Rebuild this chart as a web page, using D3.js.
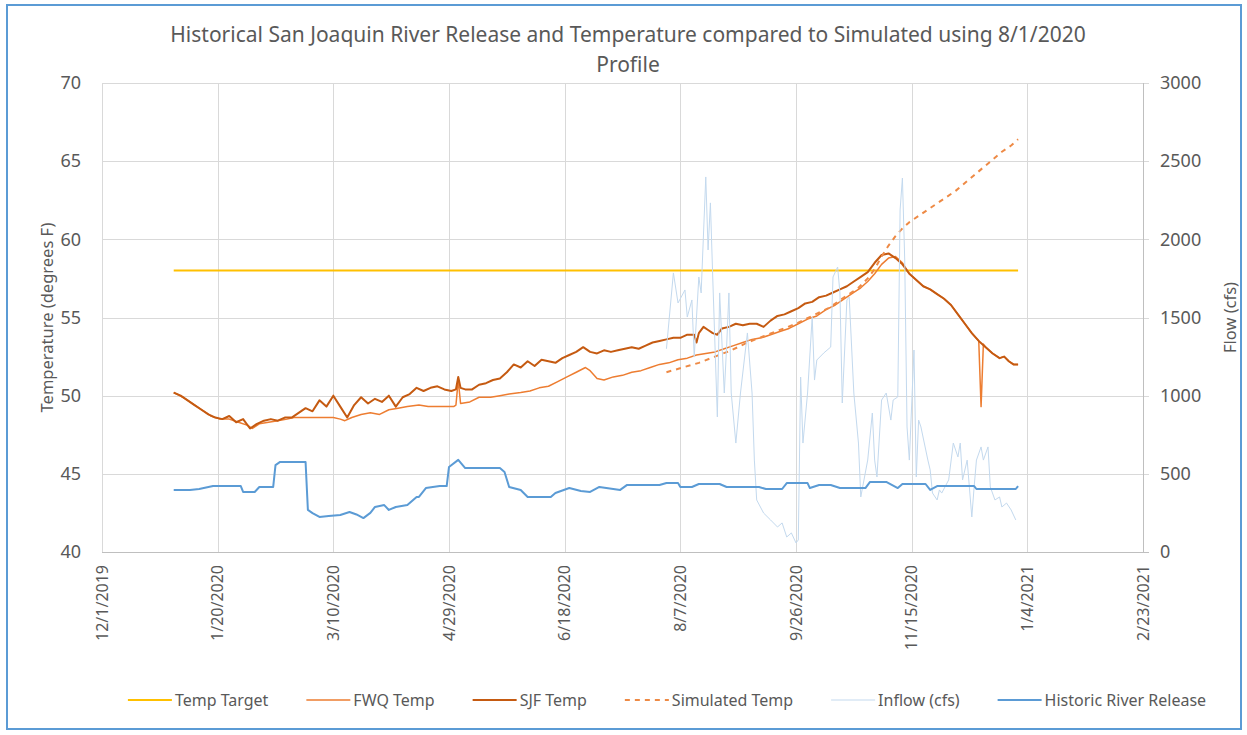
<!DOCTYPE html>
<html lang="en">
<head>
<meta charset="utf-8">
<style>
  body { margin: 0; background: #fff; }
  svg { display: block; font-family: "Noto Sans", "Open Sans", sans-serif; }
  .grid line { stroke: #d9d9d9; stroke-width: 1px; }
  .lbl { fill: #595959; }
</style>
</head>
<body>
<svg width="1247" height="735"></svg>

<script src="https://d3js.org/d3.v7.min.js"></script>
<script>
// x values are days after 1/1/2020, temps in degrees F, flows in cfs
var dateTicks = ["12/1/2019", "1/20/2020", "3/10/2020", "4/29/2020", "6/18/2020",
                 "8/7/2020", "9/26/2020", "11/15/2020", "1/4/2021", "2/23/2021"];
var tempTicks = [40, 45, 50, 55, 60, 65, 70];
var flowTicks = [0, 500, 1000, 1500, 2000, 2500, 3000];

var tempTarget = [[0, 58], [365, 58]];

var fwqTemp = [[0,50.2],[4,49.9],[8,49.5],[12,49.1],[16,48.7],[20,48.5],[24,48.5],[28,48.3],
  [32,48.1],[34,47.9],[37,48.2],[41,48.3],[45,48.4],[49,48.5],[52,48.6],[69,48.6],[72,48.5],
  [74,48.4],[77,48.6],[81,48.8],[85,48.9],[89,48.8],[93,49.1],[97,49.2],[101,49.3],[106,49.4],
  [110,49.3],[121,49.3],[122,49.4],[123,51.0],[124,49.5],[128,49.6],[132,49.9],[137,49.9],
  [141,50.0],[145,50.1],[150,50.2],[154,50.3],[158,50.5],[162,50.6],[166,50.9],[170,51.2],
  [174,51.5],[178,51.8],[180,51.6],[183,51.1],[186,51.0],[190,51.2],[194,51.3],[198,51.5],
  [202,51.6],[206,51.8],[210,52.0],[214,52.1],[218,52.3],[222,52.4],[226,52.6],[230,52.7],
  [234,52.8],[238,53.0],[242,53.2],[246,53.4],[250,53.6],[254,53.7],[258,53.9],[262,54.1],
  [266,54.3],[270,54.6],[274,54.9],[278,55.1],[282,55.5],[286,55.8],[290,56.2],[294,56.6],
  [297,56.9],[300,57.3],[303,57.8],[306,58.4],[309,58.8],[312,58.9],[315,58.5],[318,57.8],
  [321,57.4],[324,57.0],[327,56.8],[330,56.5],[333,56.2],[336,55.8],[339,55.2],[342,54.6],
  [345,54.0],[348,53.5],[349,49.3],[350,53.3],[351,53.1],[354,52.7],[357,52.4],[359,52.5],
  [361,52.2],[363,52.0],[365,52.0]];

var sjfTemp = [[0,50.2],[3,50.0],[6,49.7],[9,49.4],[12,49.1],[15,48.8],[18,48.6],[21,48.5],
  [24,48.7],[27,48.3],[30,48.5],[33,47.9],[36,48.2],[39,48.4],[42,48.5],[45,48.4],[48,48.6],
  [51,48.6],[54,48.9],[57,49.2],[60,49.0],[63,49.7],[66,49.3],[69,50.0],[72,49.3],[75,48.6],
  [78,49.4],[81,49.9],[84,49.5],[87,49.8],[90,49.6],[93,50.0],[96,49.3],[99,49.9],[102,50.1],
  [105,50.5],[108,50.3],[111,50.5],[114,50.6],[117,50.4],[120,50.3],[122,50.4],[123,51.2],
  [124,50.5],[126,50.4],[129,50.4],[132,50.7],[135,50.8],[138,51.0],[141,51.1],[144,51.5],
  [147,52.0],[150,51.8],[153,52.2],[156,51.9],[159,52.3],[162,52.2],[165,52.1],[168,52.4],
  [171,52.6],[174,52.8],[177,53.1],[180,52.8],[183,52.7],[186,52.9],[189,52.8],[192,52.9],
  [195,53.0],[198,53.1],[201,53.0],[204,53.2],[207,53.4],[210,53.5],[213,53.6],[216,53.7],
  [219,53.7],[222,53.9],[225,53.9],[226,53.4],[227,54.0],[229,54.4],[231,54.2],[233,54.0],
  [235,53.9],[237,54.3],[240,54.4],[243,54.6],[246,54.5],[249,54.6],[252,54.6],[255,54.4],
  [258,54.8],[261,55.1],[264,55.2],[267,55.4],[270,55.6],[273,55.9],[276,56.0],[279,56.3],
  [282,56.4],[285,56.6],[288,56.8],[291,57.0],[294,57.3],[297,57.6],[300,57.9],[303,58.5],
  [306,59.0],[309,59.1],[312,58.8],[315,58.4],[318,57.8],[321,57.4],[324,57.0],[327,56.8],
  [330,56.5],[333,56.2],[336,55.8],[339,55.2],[342,54.6],[345,54.0],[348,53.5],[351,53.1],
  [354,52.7],[357,52.4],[359,52.5],[361,52.2],[363,52.0],[365,52.0]];

var simulatedTemp = [[213,51.5],[220,51.8],[227,52.1],[234,52.5],[241,52.9],[248,53.4],
  [255,53.8],[262,54.2],[269,54.6],[276,55.1],[283,55.6],[290,56.3],[296,56.9],[300,57.5],
  [303,58.1],[306,58.9],[309,59.6],[312,60.2],[315,60.7],[318,61.1],[322,61.5],[326,61.9],
  [330,62.3],[334,62.7],[338,63.1],[342,63.6],[346,64.1],[350,64.6],[354,65.1],[358,65.6],
  [362,66.0],[365,66.4]];

var inflowCfs = [[213,1300],[216,1785],[218,1593],[221,1676],[222,1503],[224,1612],[225,1247],
  [227,1759],[228,1657],[230,2399],[231,1932],[232,2233],[233,1759],[234,1311],[235,864],
  [236,1657],[238,1017],[239,1311],[240,1657],[241,1017],[243,697],[245,1017],[248,1401],
  [250,1017],[251,588],[252,333],[255,249],[258,205],[261,160],[263,186],[265,96],[267,122],
  [269,58],[270,77],[271,1119],[272,697],[274,1017],[276,1503],[277,1100],[278,1228],
  [281,1273],[284,1311],[285,1759],[287,1823],[288,1657],[289,953],[291,1612],[292,1631],
  [294,1017],[296,697],[297,352],[300,588],[302,889],[303,588],[304,480],[306,972],[308,1017],
  [310,844],[311,972],[313,992],[314,2188],[315,2392],[316,1868],[317,800],[318,588],
  [320,1292],[321,480],[322,844],[323,800],[326,588],[327,525],[328,377],[330,333],[331,397],
  [332,377],[335,461],[337,697],[339,608],[340,697],[341,461],[343,588],[345,224],[346,416],
  [347,588],[349,672],[350,588],[352,672],[353,416],[355,333],[357,352],[358,288],[360,313],
  [362,269],[364,205]];

var releaseCfs = [[0,397],[7,397],[11,403],[13,409],[17,422],[29,422],[30,384],[35,384],
  [37,416],[43,416],[44,556],[46,576],[57,576],[58,269],[60,249],[63,224],[67,230],[72,237],
  [76,256],[79,240],[82,217],[85,250],[87,288],[91,300],[93,269],[96,288],[101,300],[105,352],
  [106,352],[109,409],[115,422],[118,422],[119,544],[123,589],[126,537],[141,537],[143,512],
  [145,416],[150,397],[153,352],[163,352],[165,377],[171,409],[176,390],[180,384],[184,416],
  [193,397],[196,429],[210,429],[213,441],[218,441],[219,416],[224,416],[227,435],[236,435],
  [239,416],[253,416],[256,403],[263,403],[265,441],[274,441],[275,409],[279,429],[284,429],
  [288,409],[299,409],[301,448],[308,448],[313,409],[315,435],[325,435],[327,397],[330,422],
  [346,422],[347,403],[364,403],[365,422]];

var legendNames = ["Temp Target", "FWQ Temp", "SJF Temp", "Simulated Temp", "Inflow (cfs)", "Historic River Release"];

var svg = d3.select("svg"),
    width = +svg.attr("width"),
    height = +svg.attr("height");

var plotL = 102, plotR = 1143, plotT = 83, plotB = 552;
var parseDate = d3.utcParse("%m/%d/%Y");
var day0 = new Date(Date.UTC(2020, 0, 1));
function toDate(d) { return d3.utcDay.offset(day0, d); }

var x = d3.scaleUtc()
    .domain([parseDate(dateTicks[0]), parseDate(dateTicks[dateTicks.length - 1])])
    .range([plotL, plotR]);
var yT = d3.scaleLinear().domain([40, 70]).range([plotB, plotT]);
var yF = d3.scaleLinear().domain([0, 3000]).range([plotB, plotT]);

svg.append("rect").attr("width", width).attr("height", height).attr("fill", "#fff");
svg.append("rect")
    .attr("x", 7).attr("y", 5).attr("width", 1234).attr("height", 724)
    .attr("fill", "none").attr("stroke", "#5b9bd5").attr("stroke-width", 2);

// gridlines
var grid = svg.append("g").attr("class", "grid");
grid.selectAll(".h").data(tempTicks.slice(1)).enter().append("line")
    .attr("x1", plotL).attr("x2", plotR + 6)
    .attr("y1", function (d) { return Math.round(yT(d)) + 0.5; })
    .attr("y2", function (d) { return Math.round(yT(d)) + 0.5; });
grid.selectAll(".v").data(dateTicks).enter().append("line")
    .attr("x1", function (d) { return Math.round(x(parseDate(d))) + 0.5; })
    .attr("x2", function (d) { return Math.round(x(parseDate(d))) + 0.5; })
    .attr("y1", plotT).attr("y2", plotB);

// axis lines
svg.append("line").attr("x1", plotL).attr("x2", plotR + 6)
    .attr("y1", plotB + 0.5).attr("y2", plotB + 0.5)
    .attr("stroke", "#bfbfbf");
svg.append("line").attr("x1", plotR + 0.5).attr("x2", plotR + 0.5)
    .attr("y1", plotT).attr("y2", plotB)
    .attr("stroke", "#bfbfbf");

// tick labels
svg.selectAll(".tl").data(tempTicks).enter().append("text")
    .attr("class", "lbl")
    .attr("x", 81).attr("y", function (d) { return yT(d); })
    .attr("dy", "0.35em").attr("text-anchor", "end")
    .style("font-size", "18px")
    .text(function (d) { return d; });
svg.selectAll(".tr").data(flowTicks).enter().append("text")
    .attr("class", "lbl")
    .attr("x", 1160).attr("y", function (d) { return yF(d); })
    .attr("dy", "0.35em").attr("text-anchor", "start")
    .style("font-size", "18px")
    .text(function (d) { return d; });
svg.selectAll(".tx").data(dateTicks).enter().append("text")
    .attr("class", "lbl")
    .attr("transform", function (d) { return "translate(" + x(parseDate(d)) + ",565) rotate(-90)"; })
    .attr("dy", "0.35em").attr("text-anchor", "end")
    .style("font-size", "16px")
    .text(function (d) { return d; });

// axis titles
svg.append("text").attr("class", "lbl")
    .attr("transform", "translate(47," + (plotT + plotB) / 2 + ") rotate(-90)")
    .attr("dy", "0.35em").attr("text-anchor", "middle")
    .style("font-size", "16.5px")
    .text("Temperature (degrees F)");
svg.append("text").attr("class", "lbl")
    .attr("transform", "translate(1230," + (plotT + plotB) / 2 + ") rotate(-90)")
    .attr("dy", "0.35em").attr("text-anchor", "middle")
    .style("font-size", "16.5px")
    .text("Flow (cfs)");

// title
var title = svg.append("text").attr("class", "lbl")
    .attr("text-anchor", "middle").style("font-size", "21px");
title.append("tspan").attr("x", 628).attr("y", 42)
    .text("Historical San Joaquin River Release and Temperature compared to Simulated using 8/1/2020");
title.append("tspan").attr("x", 628).attr("y", 72).text("Profile");

// series
var lineT = d3.line()
    .x(function (d) { return x(toDate(d[0])); })
    .y(function (d) { return yT(d[1]); });
var lineF = d3.line()
    .x(function (d) { return x(toDate(d[0])); })
    .y(function (d) { return yF(d[1]); });

var series = [
    {data: tempTarget, line: lineT, color: "#ffc000", w: 2, dash: null},
    {data: fwqTemp, line: lineT, color: "#ed7d31", w: 1.5, dash: null},
    {data: sjfTemp, line: lineT, color: "#c55a11", w: 2, dash: null},
    {data: simulatedTemp, line: lineT, color: "#ee8a45", w: 2, dash: "5,5"},
    {data: inflowCfs, line: lineF, color: "#c3d9ee", w: 1, dash: null},
    {data: releaseCfs, line: lineF, color: "#5b9bd5", w: 2, dash: null}
];

svg.selectAll(".series").data(series).enter().append("path")
    .attr("class", "series")
    .attr("fill", "none")
    .attr("stroke", function (d) { return d.color; })
    .attr("stroke-width", function (d) { return d.w; })
    .attr("stroke-dasharray", function (d) { return d.dash; })
    .attr("stroke-linejoin", "round")
    .attr("d", function (d) { return d.line(d.data); });

// legend
var legend = svg.append("g");
var lx = 0;
series.forEach(function (s, i) {
    var g = legend.append("g").attr("transform", "translate(" + lx + ",0)");
    g.append("line").attr("x1", 0).attr("x2", 44).attr("y1", 0).attr("y2", 0)
        .attr("stroke", s.color).attr("stroke-width", s.w)
        .attr("stroke-dasharray", s.dash);
    var t = g.append("text").attr("class", "lbl")
        .attr("x", 47).attr("dy", "0.35em")
        .style("font-size", "16px")
        .text(legendNames[i]);
    lx += 47 + t.node().getComputedTextLength() + 38;
});
lx -= 38;
legend.attr("transform", "translate(" + (667 - lx / 2) + ",700)");
</script>
</body>
</html>
